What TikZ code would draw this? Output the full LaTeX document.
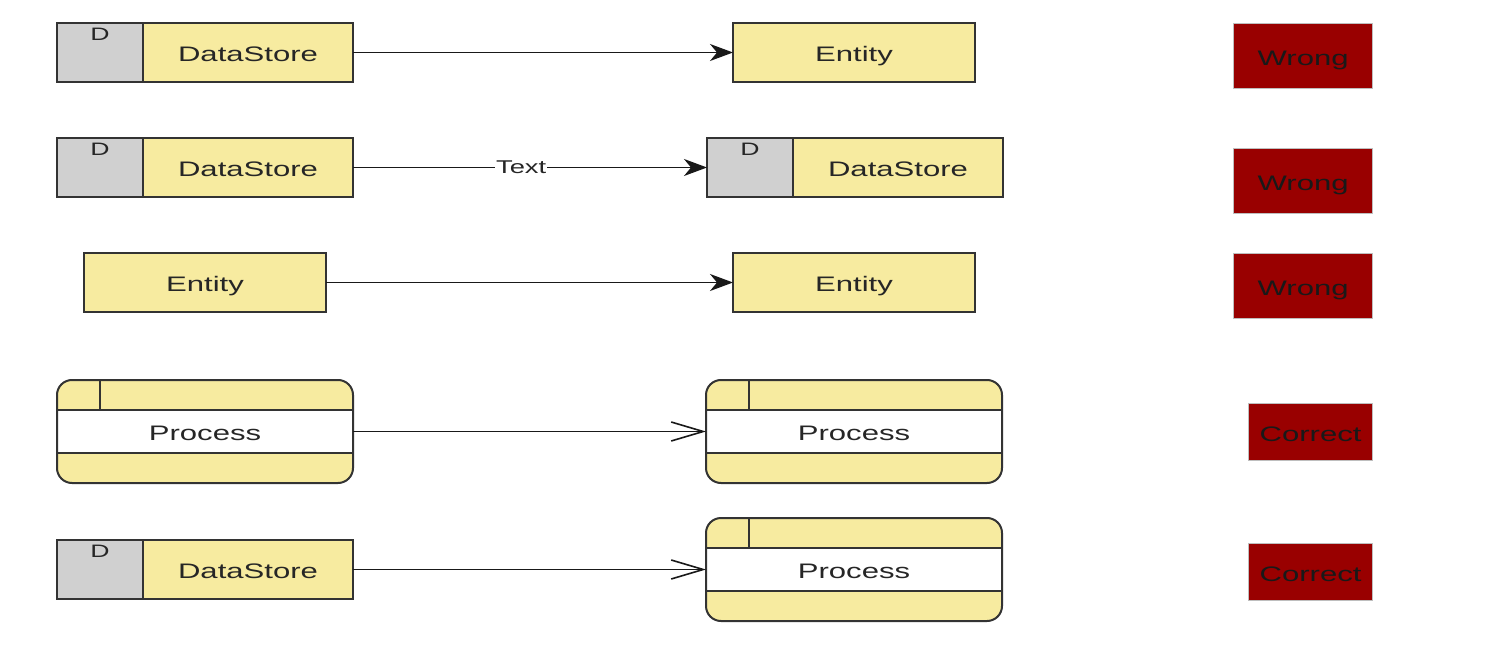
\documentclass[tikz,border=0pt]{standalone}
\usepackage{fontspec}
\setmainfont[FakeStretch=1.48]{Liberation Sans}
\usetikzlibrary{arrows.meta,calc}
\definecolor{dyellow}{RGB}{247,235,160}
\definecolor{dgray}{RGB}{208,208,208}
\definecolor{dred}{RGB}{153,0,0}
\definecolor{dborder}{RGB}{51,51,51}
\definecolor{tagborder}{RGB}{190,190,190}
\tikzset{
  x=1pt,y=-1pt,
  every node/.style={font=\fontsize{21}{25}\selectfont, text=black!85},
  boxtext/.style={text height=18pt, text depth=0pt},
  borderline/.style={draw=dborder, line width=2pt},
  baseshape/.style={borderline, inner sep=0pt, outer sep=0pt},
  dsyellow/.style={baseshape, boxtext, fill=dyellow, minimum width=210pt, minimum height=59pt, anchor=north west},
  dsgray/.style={baseshape, fill=dgray, minimum width=86pt, minimum height=59pt, anchor=north east},
  dlabel/.style={font=\fontsize{18}{22}\selectfont, inner sep=0pt},
  entitybox/.style={baseshape, boxtext, fill=dyellow, minimum width=242pt, minimum height=59pt, anchor=north west},
  procbox/.style={fill=dyellow, inner sep=0pt, outer sep=0pt, rounded corners=15pt, minimum width=296pt, minimum height=103pt, anchor=north west},
  band/.style={fill=white},
  proctext/.style={boxtext, inner sep=0pt},
  tagbox/.style={draw=tagborder, line width=1.2pt, fill=dred, inner sep=0pt, anchor=north west, text=black!90, boxtext},
  wrongbox/.style={tagbox, minimum width=139pt, minimum height=65pt},
  correctbox/.style={tagbox, minimum width=124pt, minimum height=57pt},
  flowfill/.style={line width=1.4pt, draw=black!90, -{Stealth[length=23pt, width=17pt, inset=7pt]}},
  flowopen/.style={line width=1.4pt, draw=black!90, -{Straight Barb[length=32pt, width=19pt, line width=1.6pt]}},
}
\newcommand{\procdeco}[1]{%
  \fill[band] ($(#1.north west)+(0,30)$) rectangle ($(#1.south east)+(0,-30)$);
  \draw[borderline] ($(#1.north west)+(0,30)$) -- ($(#1.north east)+(0,30)$);
  \draw[borderline] ($(#1.south west)+(0,-30)$) -- ($(#1.south east)+(0,-30)$);
  \draw[borderline] ($(#1.north west)+(43,0)$) -- ($(#1.north west)+(43,30)$);
  \draw[borderline, rounded corners=15pt] (#1.north west) rectangle (#1.south east);
}
\begin{document}
\begin{tikzpicture}
\useasboundingbox (0,0) rectangle (1485,660);

% Row 1
\node[dsyellow] (a1) at (143,23) {DataStore};
\node[dsgray] (a1d) at (a1.north west) {};
\node[dlabel] (a1dl) at ($(a1d.north)+(0,11.5)$) {D};
\node[entitybox] (a2) at (733,23) {Entity};
\node[wrongbox] (w1) at (1233,23) {Wrong};
\draw[flowfill] (a1.east) -- (a2.west);

% Row 2
\node[dsyellow] (b1) at (143,138) {DataStore};
\node[dsgray] (b1d) at (b1.north west) {};
\node[dlabel] (b1dl) at ($(b1d.north)+(0,11.5)$) {D};
\node[dsyellow] (b2) at (793,138) {DataStore};
\node[dsgray] (b2d) at (b2.north west) {};
\node[dlabel] (b2dl) at ($(b2d.north)+(0,11.5)$) {D};
\node[wrongbox] (w2) at (1233,148) {Wrong};
\draw[flowfill] (b1.east) -- node[pos=0.475, fill=white, inner sep=1pt, font=\fontsize{18.5}{22}\selectfont] (t2) {Text} (b2d.west);

% Row 3
\node[entitybox] (c1) at (84,253) {Entity};
\node[entitybox] (c2) at (733,253) {Entity};
\node[wrongbox] (w3) at (1233,253) {Wrong};
\draw[flowfill] (c1.east) -- (c2.west);

% Row 4
\node[procbox] (d1) at (57,380) {};
\procdeco{d1}
\node[proctext] (d1t) at (d1.center) {Process};
\node[procbox] (d2) at (706,380) {};
\procdeco{d2}
\node[proctext] (d2t) at (d2.center) {Process};
\node[correctbox] (k1) at (1248,403) {Correct};
\draw[flowopen] (d1.east) -- (d2.west);

% Row 5
\node[dsyellow] (e1) at (143,540) {DataStore};
\node[dsgray] (e1d) at (e1.north west) {};
\node[dlabel] (e1dl) at ($(e1d.north)+(0,11.5)$) {D};
\node[procbox] (e2) at (706,518) {};
\procdeco{e2}
\node[proctext] (e2t) at (e2.center) {Process};
\node[correctbox] (k2) at (1248,543) {Correct};
\draw[flowopen] (e1.east) -- (e2.west);
\end{tikzpicture}
\end{document}
